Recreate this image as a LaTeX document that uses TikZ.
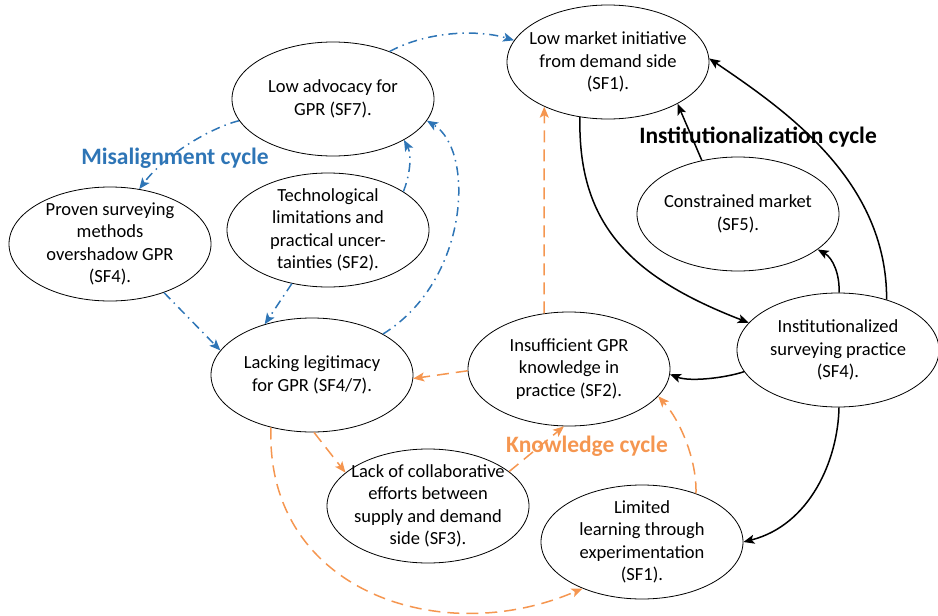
\documentclass[tikz,border=0pt]{standalone}
\usepackage{fontspec}
\setmainfont{Carlito}
\usetikzlibrary{arrows.meta,shapes.geometric}
\definecolor{cycblue}{RGB}{46,117,182}
\definecolor{cycorange}{RGB}{245,150,80}

\begin{document}
\begin{tikzpicture}[x=1pt,y=-1pt,
  factor/.style={ellipse, draw, line width=0.8pt, minimum width=202pt,
    minimum height=114pt, inner xsep=-20pt, inner ysep=-8pt, align=center,
    font=\fontsize{18.5}{22.5}\selectfont},
  tip/.style={-{Stealth[length=11pt,width=9pt,inset=2.5pt]}},
  instarrow/.style={tip, draw=black, line width=1.5pt},
  misarrow/.style={tip, draw=cycblue, line width=1.5pt,
    dash pattern=on 9pt off 5pt on 1.5pt off 5pt},
  knowarrow/.style={tip, draw=cycorange, line width=1.5pt,
    dash pattern=on 12pt off 7pt},
  cyclelabel/.style={font=\fontsize{23.5}{27}\selectfont\bfseries}]

\useasboundingbox (0,0) rectangle (938,616);

% factors
\node[factor] (sf1)   at (608,62)  {Low market initiative\\from demand side\\(SF1).};
\node[factor] (sf7)   at (333,99)  {Low advocacy for\\GPR (SF7).};
\node[factor] (proven) at (110,244) {Proven surveying\\methods\\overshadow GPR\\(SF4).};
\node[factor] (tech)  at (328,230) {Technological\\limitations and\\practical uncer-\\tainties (SF2).};
\node[factor] (legit) at (312,375) {Lacking legitimacy\\for GPR (SF4/7).};
\node[factor] (insuf) at (569,369) {Insufficient GPR\\knowledge in\\practice (SF2).};
\node[factor] (constr) at (738,214) {Constrained market\\(SF5).};
\node[factor] (instp) at (838,350) {Institutionalized\\surveying practice\\(SF4).};
\node[factor] (collab) at (428,506) {Lack of collaborative\\efforts between\\supply and demand\\side (SF3).};
\node[factor] (limit) at (642,542) {Limited\\learning through\\experimentation\\(SF1).};

% cycle labels
\node[cyclelabel, text=cycblue]   (lblmis)  at (175,158) {Misalignment cycle};
\node[cyclelabel, text=black]     (lblinst) at (758,137) {Institutionalization cycle};
\node[cyclelabel, text=cycorange] (lblknow) at (587,446) {Knowledge cycle};

% misalignment cycle
\draw[misarrow] (sf7.40) .. controls (430,30) and (480,30) .. (sf1.167);
\draw[misarrow] (sf7.193) .. controls (210,128) and (165,155) .. (proven.62);
\draw[misarrow] (proven.-42) -- (legit.165);
\draw[misarrow] (tech.-124) -- (legit.133);
\draw[misarrow] (tech.27) .. controls (410,175) and (412,155) .. (sf7.-30);
\draw[misarrow] (legit.30) .. controls (470,280) and (475,150) .. (sf7.-13);

% knowledge cycle
\draw[knowarrow] (insuf.114) -- (sf1.-145);
\draw[knowarrow] (insuf.181) -- (legit.-2);
\draw[knowarrow] (legit.-88) -- (collab.158);
\draw[knowarrow] (collab.23) -- (insuf.-95);
\draw[knowarrow] (legit.-128) .. controls (265,590) and (440,650) .. (limit.-142);
\draw[knowarrow] (limit.42) .. controls (697,460) and (680,420) .. (insuf.-17);

% institutionalization cycle
\draw[instarrow] (sf1.-117) .. controls (578,220) and (625,275) .. (instp.163);
\draw[instarrow] (constr.124) -- (sf1.-31);
\draw[instarrow] (instp.89) .. controls (840,275) and (833,258) .. (constr.-24);
\draw[instarrow] (instp.46) .. controls (887,180) and (785,110) .. (sf1.2);
\draw[instarrow] (instp.193) .. controls (725,378) and (690,382) .. (insuf.-3);
\draw[instarrow] (instp.-89) .. controls (838,460) and (810,525) .. (limit.0);

\end{tikzpicture}
\end{document}
